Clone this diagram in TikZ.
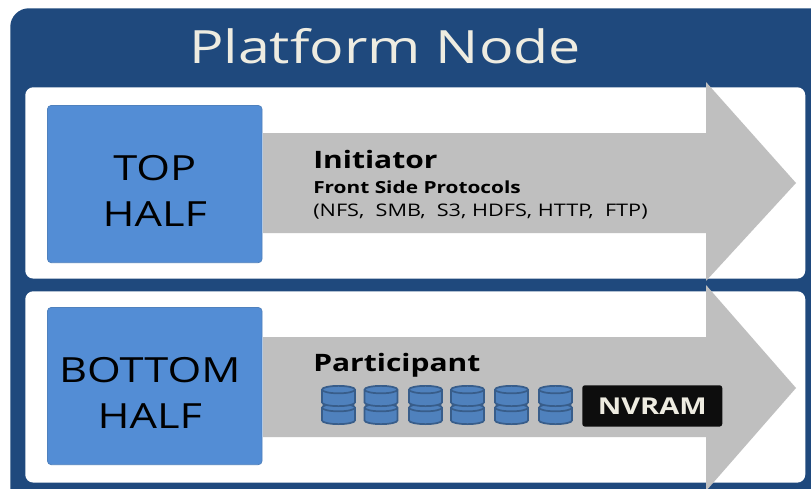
\documentclass[tikz,border=0pt]{standalone}
\usepackage{fontspec}
\setmainfont[FakeStretch=1.25]{Open Sans}
\usetikzlibrary{positioning}
\definecolor{platformblue}{RGB}{31, 73, 125}
\definecolor{halfblue}{RGB}{83, 141, 213}
\definecolor{drumblue}{RGB}{79, 129, 189}
\definecolor{drumedge}{RGB}{56, 93, 138}
\definecolor{arrowgray}{RGB}{191, 191, 191}
\definecolor{titlecream}{RGB}{238, 236, 225}
\tikzstyle{panel} = [rectangle, fill=white, rounded corners=6pt, anchor=north west,
    minimum width=585pt, inner sep=0pt, minimum height=143.5pt]
\tikzstyle{half} = [rectangle, draw=drumblue, fill=halfblue, text=black, rounded corners=3pt,
    anchor=north west, minimum width=161pt, minimum height=118pt, text width=150pt,
    align=center, font=\fontsize{26}{34.5}\selectfont, line width=.6pt]
\tikzstyle{flow} = [fill=arrowgray]
\tikzstyle{drumline} = [draw=drumedge, line width=1.3pt]
\tikzstyle{label} = [anchor=west, inner sep=0pt, text=black]
\tikzset{drum/.pic={
    \path [drumline, fill=drumblue] (-12.4pt,-4.8pt) -- (-12.4pt,4.8pt)
      arc [start angle=180, end angle=0, x radius=12.4pt, y radius=2.8pt] -- (12.4pt,-4.8pt)
      arc [start angle=360, end angle=180, x radius=12.4pt, y radius=2.8pt] -- cycle;
    \path [drumline] (-12.4pt,4.8pt)
      arc [start angle=180, end angle=360, x radius=12.4pt, y radius=2.8pt];
}}

\begin{document}
\begin{tikzpicture}[x=.75pt, y=-.75pt]
  \useasboundingbox (0,0) rectangle (811,489);
  \clip (0,0) rectangle (811,489);
  \node [rectangle, fill=platformblue, rounded corners=14pt, anchor=north west,
    minimum width=640pt, minimum height=400pt, inner sep=0pt] (platform) at (10,8) {};
  \node [font=\fontsize{34.4}{40}\selectfont, text=titlecream] (title) at (385,46) {Platform Node};
  \node [panel] (toppanel) at (25,87) {};
  \node [panel] (bottompanel) at (25,291) {};
  % arrows
  \fill [flow] (263,133) -- (706,133) -- (706,82) -- (796,183) -- (706,281) -- (706,233) -- (263,233) -- cycle;
  \fill [flow] (263,337) -- (706,337) -- (706,285) -- (796,388) -- (706,491) -- (706,437) -- (263,437) -- cycle;
  \node [half] (tophalf) at (47,105) {\rule{0pt}{28.5pt}TOP\\HALF};
  \node [half] (bottomhalf) at (47,307) {\rule{0pt}{28.5pt}\hspace*{-7.5pt}BOTTOM\\\hspace*{-7.5pt}HALF};
  \node [label, font=\fontsize{18}{20}\selectfont\bfseries] (initiator) at (313,159) {Initiator};
  \node [label, font=\fontsize{12.5}{14}\selectfont\bfseries] (protocols) at (313,187) {Front Side Protocols};
  \node [label, font=\fontsize{13}{14}\selectfont] (list) at (313,212) {(NFS,\ \ SMB,\ \ S3, HDFS, HTTP,\ \ FTP)};
  \node [label, font=\fontsize{18}{20}\selectfont\bfseries] (participant) at (313,365) {Participant};
  % drums
  \foreach \x in {338.5, 381, 425.5, 467.5, 511.5, 555.5} {
    \pic at (\x,414) {drum};
    \pic at (\x,396) {drum};
  }
  \node [rectangle, fill=black!95, rounded corners=2pt, text=titlecream, anchor=north west,
    minimum width=105pt, minimum height=31pt, inner sep=0pt,
    font=\fontsize{17.4}{18}\selectfont\bfseries] (nvram) at (582,385) {NVRAM};
\end{tikzpicture}
\end{document}
